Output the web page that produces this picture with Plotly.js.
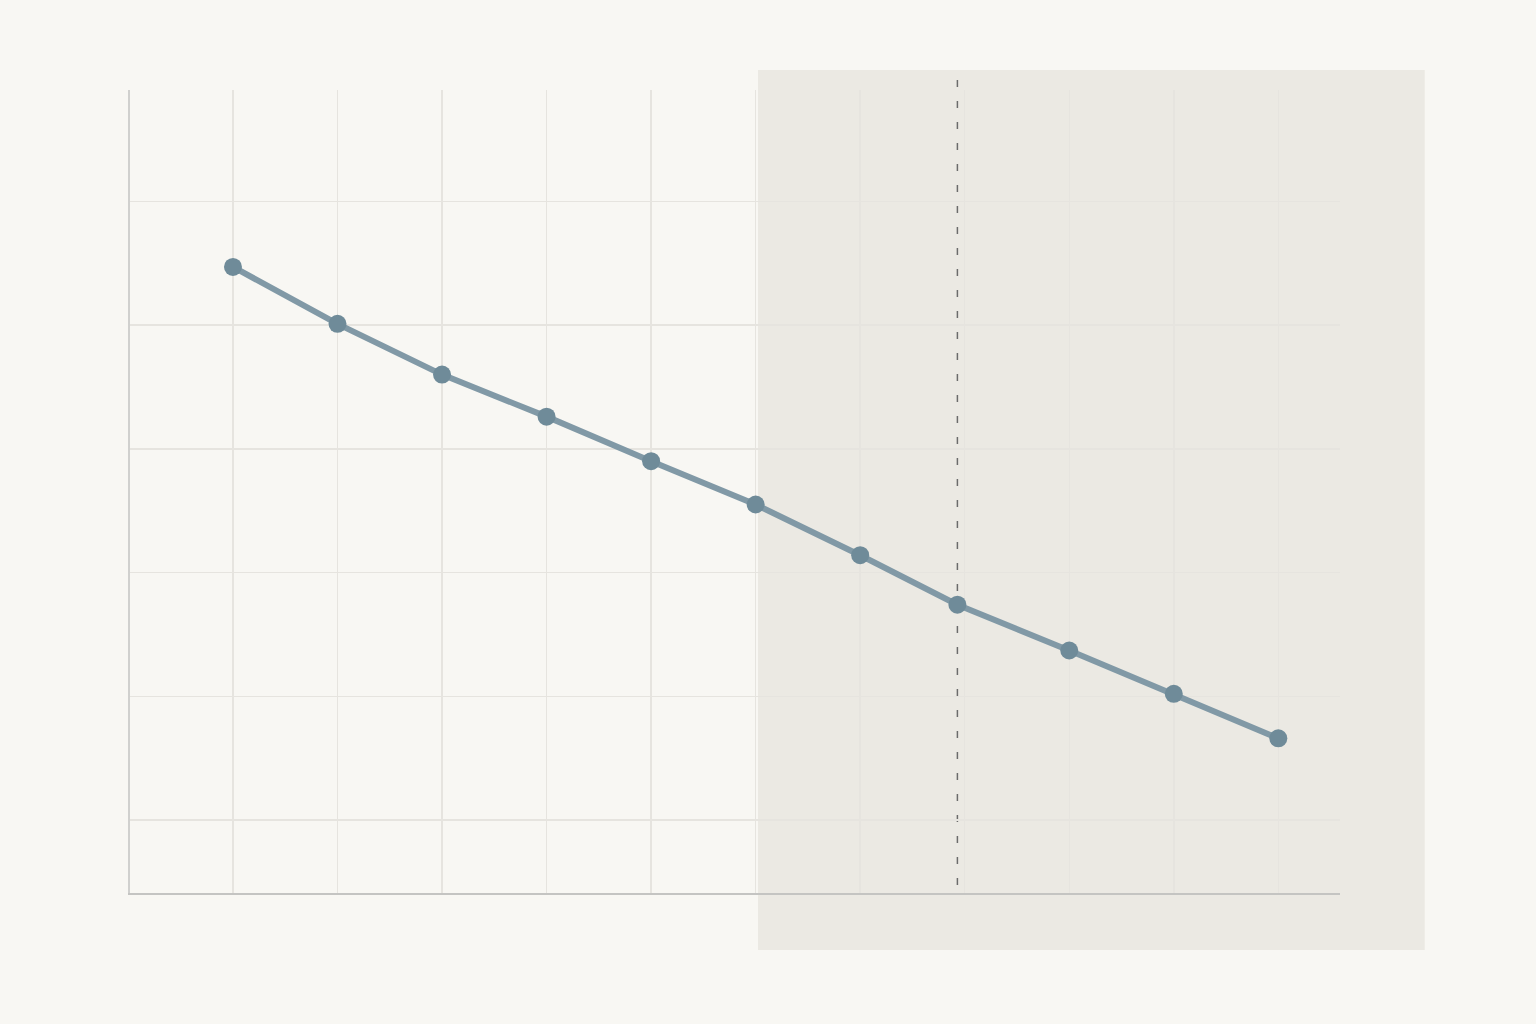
<!DOCTYPE html>
<html>
<head>
<meta charset="utf-8">
<script src="https://cdn.plot.ly/plotly-3.0.1.min.js"></script>
<style>
  html, body { margin: 0; padding: 0; background: #f8f7f3; }
  #plot { width: 1536px; height: 1024px; }
</style>
</head>
<body>
<div id="plot"></div>
<script>
// DATA =========================================================
var steps = [0, 1, 2, 3, 4, 5, 6, 6.93, 8, 9, 10];
var values = [5.47, 5.01, 4.60, 4.26, 3.90, 3.55, 3.14, 2.74, 2.37, 2.02, 1.66];
var markerStep = 6.93;   // dashed marker

// PLOT =========================================================
var data = [{
    x: steps,
    y: values,
    mode: 'lines+markers',
    line: { color: '#8199a6', width: 6 },
    marker: { color: '#6f8b99', size: 18 },
    showlegend: false,
    hoverinfo: 'skip'
}];

var layout = {
    width: 1536,
    height: 1024,
    paper_bgcolor: '#f8f7f3',
    plot_bgcolor: 'rgba(0,0,0,0)',
    margin: { l: 130, r: 196, t: 90, b: 131 },
    xaxis: {
        range: [-0.985, 10.59],
        tick0: 0,
        dtick: 1,
        showticklabels: false,
        ticks: '',
        showgrid: true,
        gridcolor: '#e6e4df',
        gridwidth: 1.5,
        zeroline: false,
        showline: true,
        linecolor: '#c4c4c2',
        linewidth: 2
    },
    yaxis: {
        range: [0.41, 6.9],
        tick0: 0,
        dtick: 1,
        showticklabels: false,
        ticks: '',
        showgrid: true,
        gridcolor: '#e6e4df',
        gridwidth: 1.5,
        zeroline: false,
        showline: true,
        linecolor: '#d0d0ce',
        linewidth: 2
    },
    shapes: [
    {
        // shaded zone, drawn under the grid
        type: 'rect',
        xref: 'paper', yref: 'paper',
        x0: 0.519, x1: 1.070,
        y0: -0.071, y1: 1.025,
        fillcolor: 'rgba(190,185,175,0.22)',
        line: { width: 0 },
        layer: 'below'
    },
    {
        type: 'line',
        xref: 'x', yref: 'paper',
        x0: markerStep, x1: markerStep,
        y0: 0.01, y1: 1.022,
        line: { color: '#6b6b6b', width: 1.5, dash: '7px,14px' },
        layer: 'below'
    }]
};

Plotly.newPlot('plot', data, layout, { displayModeBar: false, staticPlot: true });
</script>
</body>
</html>
